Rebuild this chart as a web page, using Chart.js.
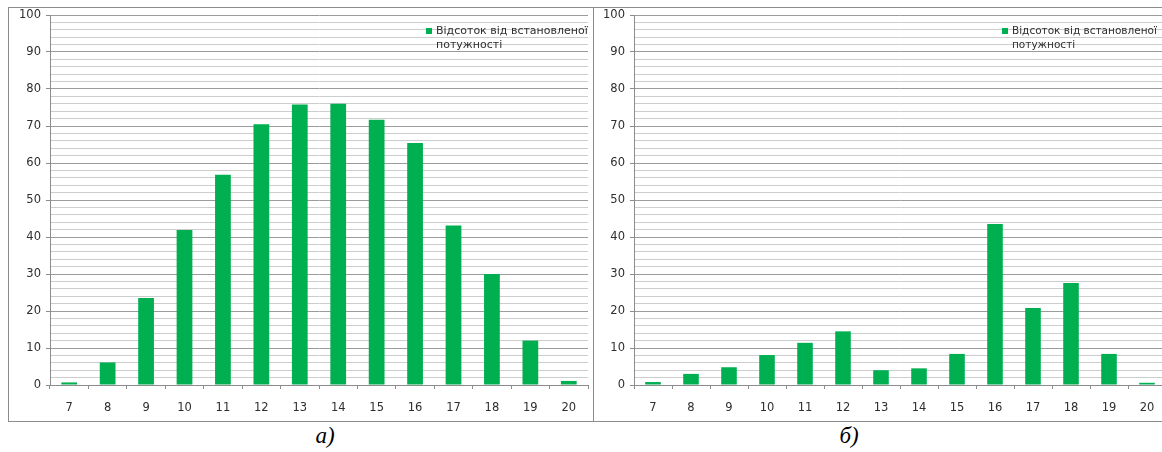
<!DOCTYPE html>
<html lang="uk">
<head>
<meta charset="utf-8">
<title>Відсоток від встановленої потужності</title>
<script src="https://cdn.jsdelivr.net/npm/chart.js@4/dist/chart.umd.min.js"></script>
<style>
    html, body {
        margin: 0;
        padding: 0;
        width: 1162px;
        height: 452px;
        overflow: hidden;
        background: #FFFFFF;
    }
    .frame {
        position: absolute;
        box-sizing: border-box;
        border: 1px solid #8C8C8C;
    }
    canvas {
        position: absolute;
    }
    .caption {
        position: absolute;
        top: 423px;
        font-family: 'Liberation Serif', 'Times New Roman', serif;
        font-style: italic;
        font-size: 23px;
        color: #000000;
        transform: translateX(-50%);
    }
</style>
</head>
<body>
<canvas id="chartA" width="584" height="413" style="left:9px; top:8px;"></canvas>
<canvas id="chartB" width="577" height="413" style="left:594px; top:8px;"></canvas>
<div class="frame" style="left:8px; top:7px; width:586px; height:415px;"></div>
<div class="frame" style="left:593px; top:7px; width:600px; height:415px;"></div>
<div class="caption" style="left:325px;">а)</div>
<div class="caption" style="left:849px;">б)</div>

<script>
// Hours of the day
const HOURS = ['7', '8', '9', '10', '11', '12', '13', '14', '15', '16', '17', '18', '19', '20'];

// Output as % of installed capacity, day a)
const SHARE_A = [0.7, 6.1, 23.5, 41.9, 56.8, 70.5, 75.8, 76.0, 71.7, 65.4, 43.1, 30.0, 12.0, 1.1];

// Output as % of installed capacity, day б)
const SHARE_B = [0.8, 3.0, 4.8, 8.1, 11.4, 14.5, 4.0, 4.5, 8.4, 43.5, 20.8, 27.6, 8.4, 0.6];

const SERIES_LABEL = ['Відсоток від встановленої', 'потужності'];

const COLORS = {
    bar: '#00B050',
    text: '#2E2E2E',
    axis: '#8C8C8C',
    major: '#9C9C9C',
    minor: '#CDCDCD'
};

const FONT = "'DejaVu Sans', Verdana, sans-serif";

// Legend drawn inside the plot, two lines of text next to a small square
const insideLegend = {
    id: 'insideLegend',
    afterDraw(chart, args, opts) {
        const ctx = chart.ctx;
        const ds = chart.data.datasets[0];
        const x = opts.x;
        const y = chart.chartArea.top + 16;
        ctx.save();
        ctx.fillStyle = ds.backgroundColor;
        ctx.fillRect(x, y - 3, 6, 6);
        ctx.fillStyle = COLORS.text;
        ctx.font = opts.size + 'px ' + FONT;
        ctx.textBaseline = 'middle';
        ctx.textAlign = 'left';
        ds.label.forEach((line, i) => {
            ctx.fillText(line, x + 10, y + i * 14);
        });
        ctx.restore();
    }
};

function makeChart(canvasId, values, axisWidth, legendX, legendSize) {
    const ctx = document.getElementById(canvasId).getContext('2d');
    return new Chart(ctx, {
        type: 'bar',
        data: {
            labels: HOURS,
            datasets: [{
                label: SERIES_LABEL,
                data: values,
                backgroundColor: COLORS.bar,
                borderWidth: 0,
                categoryPercentage: 1.0,
                barPercentage: 0.41
            }]
        },
        options: {
            responsive: false,
            animation: false,
            devicePixelRatio: 1,
            layout: {
                padding: { top: 7, right: 5, left: 0, bottom: 0 }
            },
            scales: {
                x: {
                    afterFit: scale => {
                        scale.height = 36;
                        scale.paddingLeft = 0;
                        scale.paddingRight = 0;
                    },
                    grid: {
                        drawOnChartArea: false,
                        drawTicks: true,
                        tickLength: 4,
                        tickColor: COLORS.axis,
                        offset: true
                    },
                    border: { color: COLORS.axis },
                    ticks: {
                        color: COLORS.text,
                        font: { family: FONT, size: 11.5 },
                        padding: 12,
                        maxRotation: 0,
                        autoSkip: false
                    }
                },
                y: {
                    min: 0,
                    max: 100,
                    afterFit: scale => {
                        scale.width = axisWidth;
                        scale.paddingTop = 0;
                        scale.paddingBottom = 0;
                    },
                    grid: {
                        color: c => (c.tick && c.tick.value % 10 === 0) ? COLORS.major : COLORS.minor,
                        tickColor: c => (c.tick && c.tick.value % 10 === 0) ? COLORS.axis : 'rgba(0,0,0,0)',
                        tickLength: 4
                    },
                    border: { color: COLORS.axis },
                    ticks: {
                        stepSize: 2,
                        autoSkip: false,
                        color: COLORS.text,
                        font: { family: FONT, size: 11.5 },
                        padding: 5,
                        callback: v => (v % 10 === 0 ? v : '')
                    }
                }
            },
            plugins: {
                legend: { display: false },
                tooltip: { enabled: false },
                insideLegend: { x: legendX, size: legendSize }
            }
        },
        plugins: [insideLegend]
    });
}

document.addEventListener('DOMContentLoaded', () => {
    makeChart('chartA', SHARE_A, 41, 417, 11);
    makeChart('chartB', SHARE_B, 40, 408, 10.5);
});
</script>
</body>
</html>
